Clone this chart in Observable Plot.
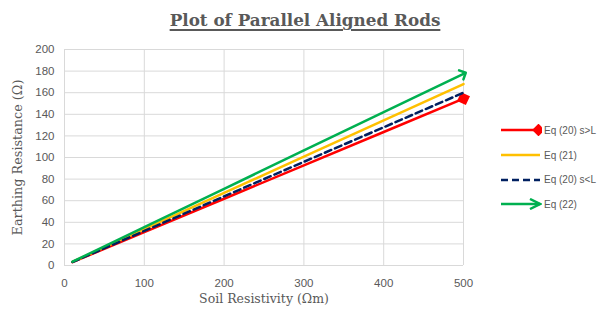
<!DOCTYPE html>
<html><head><meta charset="utf-8">
<script src="https://cdn.jsdelivr.net/npm/d3@7"></script>
<script src="https://cdn.jsdelivr.net/npm/@observablehq/plot@0.6"></script>
<style>
body{margin:0;background:#fff;width:610px;height:314px;overflow:hidden;position:relative;font-family:"Liberation Sans",sans-serif}
#title{height:36px;line-height:40px;text-align:center;font-family:"DejaVu Serif",serif;font-weight:bold;font-size:16.8px;color:#595959;text-decoration:underline;text-decoration-thickness:2px;text-underline-offset:3px}
#legend{position:absolute;left:500px;top:118px;font-size:10px;color:#595959}
.li{height:24.7px;display:flex;align-items:center}
.li svg{margin-right:2px}
</style></head><body>
<div id="title">Plot of Parallel Aligned Rods</div>
<div id="chart"></div>
<div id="legend"></div>
<script>
const resistivity = [10, 100, 200, 300, 400, 500];
const eq20sGtL = [3.1, 30.9, 61.8, 92.7, 123.6, 154.5];
const eq21     = [3.4, 33.6, 67.2, 100.8, 134.4, 168.0];
const eq20sLtL = [3.2, 32.0, 64.0, 96.0, 128.0, 160.0];
const eq22     = [3.5, 35.5, 71.0, 106.5, 142.0, 177.5];
const seriesNames = ["Eq (20) s>L", "Eq (21)", "Eq (20) s<L", "Eq (22)"];
const colors = ["#ff0000", "#ffc000", "#002060", "#00b050"];
const xTicks = [0, 100, 200, 300, 400, 500];
const yTicks = [0, 20, 40, 60, 80, 100, 120, 140, 160, 180, 200];

const all = [eq20sGtL, eq21, eq20sLtL, eq22];
const rows = (i) => resistivity.map((x, j) => ({x, y: all[i][j]}));

const chart = Plot.plot({
  width: 610, height: 278,
  marginLeft: 64, marginRight: 147, marginTop: 13, marginBottom: 49,
  style: {fontFamily: "Liberation Sans, sans-serif", fontSize: "11px", color: "#595959"},
  x: {domain: [0, 500], ticks: xTicks, label: null},
  y: {domain: [0, 200], ticks: yTicks, label: null},
  marks: [
    Plot.gridX(xTicks, {stroke: "#d9d9d9", strokeOpacity: 1}),
    Plot.gridY(yTicks, {stroke: "#d9d9d9", strokeOpacity: 1}),
    Plot.axisX({ticks: xTicks, tickSize: 0, tickPadding: 13, fill: "#595959", fontSize: 11.5}),
    Plot.axisY({ticks: yTicks, tickSize: 0, tickPadding: 10, fill: "#595959", fontSize: 11.5}),
    Plot.axisX({ticks: [], label: "Soil Resistivity (Ωm)", labelAnchor: "center", labelArrow: "none", labelOffset: 37, fontFamily: "DejaVu Serif, serif", fontSize: 12.5, fill: "#595959"}),
    Plot.axisY({ticks: [], label: "Earthing Resistance (Ω)", labelAnchor: "center", labelArrow: "none", labelOffset: 52, fontFamily: "DejaVu Serif, serif", fontSize: 12.8, fill: "#595959"}),
    Plot.line(rows(0), {x: "x", y: "y", stroke: colors[0], strokeWidth: 2.5}),
    Plot.dot(rows(0).slice(-1), {x: "x", y: "y", symbol: "square", r: 5.5, fill: colors[0], rotate: 25}),
    Plot.line(rows(1), {x: "x", y: "y", stroke: colors[1], strokeWidth: 2.5}),
    Plot.line(rows(2), {x: "x", y: "y", stroke: colors[2], strokeWidth: 2.5, strokeDasharray: "7,4"}),
    Plot.line(rows(3), {x: "x", y: "y", stroke: colors[3], strokeWidth: 2.5, markerEnd: "arrow"})
  ]
});
document.getElementById("chart").appendChild(chart);

const leg = document.getElementById("legend");
seriesNames.forEach((name, i) => {
  const d = document.createElement("div");
  d.className = "li";
  let sw = `<svg width="42" height="12"><line x1="1" y1="6" x2="40" y2="6" stroke="${colors[i]}" stroke-width="2.5"${i===2?' stroke-dasharray="7,4"':''}/>`;
  if (i === 0) sw += `<rect x="34" y="1.5" width="9" height="9" fill="${colors[i]}" transform="rotate(45 38.5 6)"/>`;
  if (i === 3) sw += `<path d="M30,1 L40,6 L30,11" fill="none" stroke="${colors[i]}" stroke-width="2.5"/>`;
  sw += `</svg>`;
  d.innerHTML = sw;
  const s = document.createElement("span");
  s.textContent = name;
  d.appendChild(s);
  leg.appendChild(d);
});
</script>
</body></html>
